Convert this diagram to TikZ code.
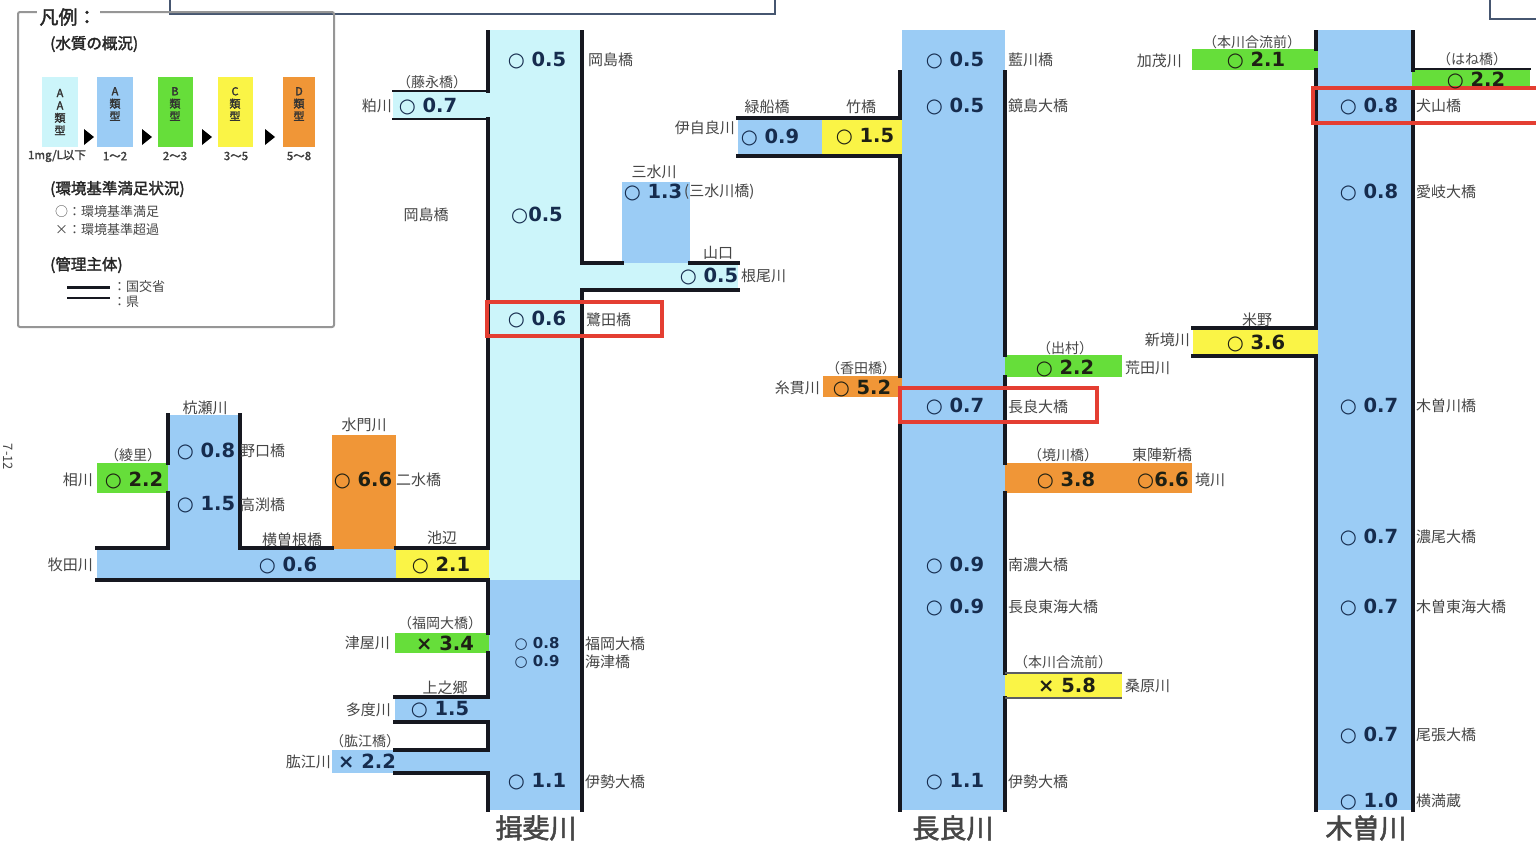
\documentclass[tikz,border=0pt]{standalone}
\usepackage{fontspec}
\setmainfont{Noto Sans CJK JP}
\newfontfamily\jpb{Noto Sans CJK JP}[FakeBold=2]
\newfontfamily\numfont{DejaVu Sans}
\definecolor{caa}{RGB}{204,245,250}
\definecolor{ca}{RGB}{155,204,245}
\definecolor{cb}{RGB}{102,222,58}
\definecolor{cc}{RGB}{250,244,70}
\definecolor{cd}{RGB}{240,150,55}
\definecolor{bankc}{RGB}{22,24,32}
\definecolor{redbox}{RGB}{228,62,50}
\definecolor{labc}{RGB}{70,70,70}
\definecolor{valb}{RGB}{22,44,78}
\definecolor{vald}{RGB}{30,32,20}
\definecolor{framec}{RGB}{70,86,112}
\definecolor{legc}{RGB}{150,150,150}
\tikzset{
  lbl/.style={font=\fontsize{15}{15}\selectfont, text=labc, inner sep=0pt},
  plbl/.style={font=\fontsize{14}{14}\selectfont, text=labc, inner sep=0pt},
  val/.style={font=\numfont\bfseries\fontsize{19.5}{19.5}\selectfont, text=valb, inner sep=0pt},
  vald/.style={val, text=vald},
  sval/.style={font=\numfont\bfseries\fontsize{15}{15}\selectfont, text=valb, inner sep=0pt},
  title/.style={font=\jpb\fontsize{27}{27}\selectfont, text=labc, inner sep=0pt},
  bank/.style={line width=4.2pt, draw=bankc, line cap=rect},
  thin/.style={line width=2pt, draw=bankc, line cap=rect},
  rbox/.style={line width=3.2pt, draw=redbox},
  leg/.style={font=\fontsize{13}{13}\selectfont, text=labc, inner sep=0pt},
  rng/.style={font=\jpb\fontsize{11.5}{12}\selectfont, text=black!75, inner sep=0pt},
  legh/.style={font=\jpb\fontsize{15.5}{15.5}\selectfont, text=black!85, inner sep=0pt},
  legbox/.style={font=\jpb\fontsize{11}{12.5}\selectfont, text=black!80, align=center, inner sep=0pt},
  tri/.style={fill=black}
}
\begin{document}
\begin{tikzpicture}[x=1pt,y=-1pt]
\useasboundingbox (0,0) rectangle (1536,846);
\fill[white] (0,0) rectangle (1536,846);

% ---------- top frames ----------
\draw[framec, line width=1.6pt] (170,-5) -- (170,14) -- (775,14) -- (775,-5);
\draw[framec, line width=1.6pt] (1490,-5) -- (1490,19) -- (1540,19);

% ---------- legend ----------
\draw[legc, line width=2pt, rounded corners=2pt] (18,12) rectangle (334,327);
\node[font=\jpb\fontsize{19}{19}\selectfont, fill=white, inner sep=3pt, text=black!85] (legtitle) at (68,17) {凡例：};
\node[legh, anchor=west] (legq) at (50,44) {(水質の概況)};
\fill[caa] (42,77) rectangle (78,147);
\fill[ca] (97,77) rectangle (133,147);
\fill[cb] (158,77) rectangle (193,147);
\fill[cc] (218,77) rectangle (253,147);
\fill[cd] (283,77) rectangle (315,147);
\node[legbox] (laa) at (60,112) {A\\A\\類\\型};
\node[legbox] (la) at (115,104) {A\\類\\型};
\node[legbox] (lb) at (175,104) {B\\類\\型};
\node[legbox] (lc) at (235,104) {C\\類\\型};
\node[legbox] (ld) at (299,104) {D\\類\\型};
\fill[tri] (84,129) -- (84,145) -- (94,137) -- cycle;
\fill[tri] (142,129) -- (142,145) -- (152,137) -- cycle;
\fill[tri] (202,129) -- (202,145) -- (212,137) -- cycle;
\fill[tri] (265,129) -- (265,145) -- (275,137) -- cycle;
\node[rng] (laat) at (57,156) {1mg/L以下};
\node[rng] (lat) at (115,156) {1～2};
\node[rng] (lbt) at (175,156) {2～3};
\node[rng] (lct) at (236,156) {3～5};
\node[rng] (ldt) at (299,156) {5～8};
\node[legh, anchor=west] (legk) at (50,189) {(環境基準満足状況)};
\node[leg, anchor=west] (lego) at (55,212) {○：環境基準満足};
\node[leg, anchor=west] (legx) at (55,230) {×：環境基準超過};
\node[legh, anchor=west] (legm) at (50,265) {(管理主体)};
\draw[bankc, line width=3pt] (67,287) -- (110,287);
\node[leg, anchor=west] (legkk) at (113,287) {：国交省};
\draw[bankc, line width=1.3pt] (67,298) -- (110,298);
\node[leg, anchor=west] (legken) at (113,302) {：県};
\node[font=\fontsize{13}{13}\selectfont, text=labc, rotate=-90, inner sep=0pt] (pg) at (8,457) {7-12};

% ---------- fills: Ibi ----------
\fill[caa] (489,30) rectangle (582,580);
\fill[ca] (489,580) rectangle (582,810);
\fill[caa] (393,92) rectangle (489,118);
\fill[ca] (622,182) rectangle (690,263);
\fill[caa] (582,263) rectangle (738,290);
\fill[ca] (168,415) rectangle (240,550);
\fill[cb] (97,463) rectangle (168,493);
\fill[cd] (332,435) rectangle (396,550);
\fill[ca] (97,549) rectangle (396,579);
\fill[cc] (396,549) rectangle (489,579);
\fill[cb] (395,633) rectangle (489,653);
\fill[ca] (395,697) rectangle (489,722);
\fill[ca] (332,750) rectangle (489,773);
% ---------- fills: Nagara ----------
\fill[ca] (902,30) rectangle (1005,810);
\fill[ca] (738,119) rectangle (822,155);
\fill[cc] (822,119) rectangle (902,155);
\fill[cd] (823,376) rectangle (902,397);
\fill[cb] (1005,355) rectangle (1122,377);
\fill[cd] (1005,463) rectangle (1192,493);
\fill[cc] (1005,673) rectangle (1122,698);
% ---------- fills: Kiso ----------
\fill[ca] (1318,30) rectangle (1412,810);
\fill[cb] (1192,49) rectangle (1318,70);
\fill[cb] (1412,70) rectangle (1530,88);
\fill[cc] (1193,329) rectangle (1318,355);

% ---------- banks: Ibi ----------
\draw[bank] (488,32) -- (488,91);
\draw[thin] (393,91) -- (488,91);
\draw[thin] (393,119) -- (488,119);
\draw[bank] (488,119) -- (488,548) -- (396,548);
\draw[bank] (582,32) -- (582,263) -- (622,263);
\draw[bank] (690,263) -- (738,263);
\draw[bank] (738,290) -- (582,290) -- (582,810);
\draw[bank] (97,548) -- (168,548) -- (168,493);
\draw[bank] (168,463) -- (168,415);
\draw[bank] (240,415) -- (240,548) -- (332,548);
\draw[bank] (97,580) -- (488,580) -- (488,633);
\draw[bank] (488,653) -- (488,697) -- (395,697);
\draw[bank] (395,722) -- (488,722) -- (488,750) -- (395,750);
\draw[bank] (395,773) -- (488,773) -- (488,810);
% ---------- banks: Nagara ----------
\draw[bank] (900,72) -- (900,118) -- (738,118);
\draw[bank] (738,156) -- (900,156) -- (900,376);
\draw[bank] (900,397) -- (900,810);
\draw[bank] (1005,72) -- (1005,355);
\draw[bank] (1005,377) -- (1005,463);
\draw[bank] (1005,493) -- (1005,673);
\draw[bank] (1005,698) -- (1005,810);
\draw[bankc!70, line width=1.2pt] (1005,673) -- (1122,673);
\draw[bankc!70, line width=1.2pt] (1005,698) -- (1122,698);
% ---------- banks: Kiso ----------
\draw[bank] (1316,32) -- (1316,49);
\draw[bank] (1316,70) -- (1316,328) -- (1193,328);
\draw[bank] (1193,356) -- (1316,356) -- (1316,810);
\draw[bank] (1413,32) -- (1413,70);
\draw[thin, line width=1.2pt] (1413,69) -- (1530,69);
\draw[bank] (1413,88) -- (1413,810);

% ---------- red boxes ----------
\draw[rbox] (487,302) rectangle (662,336);
\draw[rbox] (900,388) rectangle (1097,422);
\draw[rbox] (1313,88) rectangle (1545,123);

% ---------- Ibi texts ----------
\node[val] (i1) at (537,60) {○ 0.5};
\node[lbl, anchor=west] (i1n) at (588,60) {岡島橋};
\node[plbl] (kasup) at (432,82) {（藤永橋）};
\node[lbl, anchor=east] (kasun) at (392,106) {粕川};
\node[val] (kasuv) at (428,106) {○ 0.7};
\node[lbl] (i2n) at (426,215) {岡島橋};
\node[val] (i2) at (537,215) {○0.5};
\node[lbl] (mitn) at (654,172) {三水川};
\node[val] (mitv) at (653,192) {○ 1.3};
\node[lbl, anchor=west] (mitp) at (684,192) {(三水川橋)};
\node[lbl] (yamag) at (718,253) {山口};
\node[val] (neov) at (709,276) {○ 0.5};
\node[lbl, anchor=west] (neon) at (741,276) {根尾川};
\node[val] (sagv) at (537,319) {○ 0.6};
\node[lbl, anchor=west] (sagn) at (586,320) {鷺田橋};
\node[lbl] (kuin) at (205,408) {杭瀬川};
\node[plbl] (aip) at (133,455) {（綾里）};
\node[lbl, anchor=east] (ain) at (93,480) {相川};
\node[vald] (aiv) at (134,480) {○ 2.2};
\node[val] (kuv1) at (206,451) {○ 0.8};
\node[lbl, anchor=west] (kun1) at (240,451) {野口橋};
\node[val] (kuv2) at (206,505) {○ 1.5};
\node[lbl, anchor=west] (kun2) at (240,505) {高渕橋};
\node[lbl] (yoko) at (292,540) {横曽根橋};
\node[lbl] (suin) at (364,425) {水門川};
\node[vald] (suiv) at (363,480) {○ 6.6};
\node[lbl, anchor=west] (suib) at (396,480) {二水橋};
\node[lbl, anchor=east] (makn) at (93,565) {牧田川};
\node[val] (makv) at (288,565) {○ 0.6};
\node[lbl] (ikeb) at (442,538) {池辺};
\node[vald] (ikev) at (441,565) {○ 2.1};
\node[plbl] (tsup) at (440,623) {（福岡大橋）};
\node[lbl, anchor=east] (tsun) at (390,643) {津屋川};
\node[vald] (tsuv) at (445,643) {× 3.4};
\node[sval] (fukv) at (537,644) {○ 0.8};
\node[sval] (kaiv) at (537,662) {○ 0.9};
\node[lbl, anchor=west] (fukn) at (585,644) {福岡大橋};
\node[lbl, anchor=west] (kain) at (585,662) {海津橋};
\node[lbl] (kamin) at (445,688) {上之郷};
\node[lbl, anchor=east] (tadon) at (391,710) {多度川};
\node[val] (tadov) at (440,710) {○ 1.5};
\node[plbl] (hijp) at (365,741) {（肱江橋）};
\node[lbl, anchor=east] (hijn) at (331,762) {肱江川};
\node[val] (hijv) at (367,761) {× 2.2};
\node[val] (isev1) at (537,782) {○ 1.1};
\node[lbl, anchor=west] (isen1) at (585,782) {伊勢大橋};
\node[title] (ibi) at (536,828) {揖斐川};

% ---------- Nagara texts ----------
\node[val] (n1) at (955,60) {○ 0.5};
\node[lbl, anchor=west] (n1n) at (1008,60) {藍川橋};
\node[val] (n2) at (955,106) {○ 0.5};
\node[lbl, anchor=west] (n2n) at (1008,106) {鏡島大橋};
\node[lbl] (midn) at (767,107) {緑船橋};
\node[lbl] (taken) at (861,107) {竹橋};
\node[lbl, anchor=east] (ijin) at (735,128) {伊自良川};
\node[val] (ijiv) at (770,137) {○ 0.9};
\node[vald] (takev) at (865,137) {○ 1.5};
\node[plbl] (itop) at (861,368) {（香田橋）};
\node[lbl, anchor=east] (iton) at (820,388) {糸貫川};
\node[vald] (itov) at (862,388) {○ 5.2};
\node[plbl] (arap) at (1065,348) {（出村）};
\node[vald] (arav) at (1065,368) {○ 2.2};
\node[lbl, anchor=west] (aran) at (1125,368) {荒田川};
\node[val] (n3) at (955,406) {○ 0.7};
\node[lbl, anchor=west] (n3n) at (1008,407) {長良大橋};
\node[plbl] (sakp) at (1063,455) {（境川橋）};
\node[lbl] (tojn) at (1162,455) {東陣新橋};
\node[vald] (sakv1) at (1066,480) {○ 3.8};
\node[vald] (sakv2) at (1163,480) {○6.6};
\node[lbl, anchor=west] (sakn) at (1195,480) {境川};
\node[val] (n4) at (955,565) {○ 0.9};
\node[lbl, anchor=west] (n4n) at (1008,565) {南濃大橋};
\node[val] (n5) at (955,607) {○ 0.9};
\node[lbl, anchor=west] (n5n) at (1008,607) {長良東海大橋};
\node[plbl] (kuwp) at (1063,662) {（本川合流前）};
\node[vald] (kuwv) at (1067,685) {× 5.8};
\node[lbl, anchor=west] (kuwn) at (1125,686) {桑原川};
\node[val] (n6) at (955,782) {○ 1.1};
\node[lbl, anchor=west] (n6n) at (1008,782) {伊勢大橋};
\node[title] (nag) at (953,828) {長良川};

% ---------- Kiso texts ----------
\node[plbl] (kamp) at (1252,42) {（本川合流前）};
\node[lbl, anchor=east] (kamn) at (1182,61) {加茂川};
\node[vald] (kamv) at (1256,60) {○ 2.1};
\node[plbl] (hanp) at (1472,59) {（はね橋）};
\node[vald] (hanv) at (1476,80) {○ 2.2};
\node[val] (k1) at (1369,106) {○ 0.8};
\node[lbl, anchor=west] (k1n) at (1416,106) {犬山橋};
\node[val] (k2) at (1369,192) {○ 0.8};
\node[lbl, anchor=west] (k2n) at (1416,192) {愛岐大橋};
\node[lbl] (komn) at (1257,320) {米野};
\node[lbl, anchor=east] (shin) at (1190,340) {新境川};
\node[vald] (shiv) at (1256,343) {○ 3.6};
\node[val] (k3) at (1369,406) {○ 0.7};
\node[lbl, anchor=west] (k3n) at (1416,406) {木曽川橋};
\node[val] (k4) at (1369,537) {○ 0.7};
\node[lbl, anchor=west] (k4n) at (1416,537) {濃尾大橋};
\node[val] (k5) at (1369,607) {○ 0.7};
\node[lbl, anchor=west] (k5n) at (1416,607) {木曽東海大橋};
\node[val] (k6) at (1369,735) {○ 0.7};
\node[lbl, anchor=west] (k6n) at (1416,735) {尾張大橋};
\node[val] (k7) at (1369,801) {○ 1.0};
\node[lbl, anchor=west] (k7n) at (1416,801) {横満蔵};
\node[title] (kiso) at (1366,828) {木曽川};
\end{tikzpicture}
\end{document}
